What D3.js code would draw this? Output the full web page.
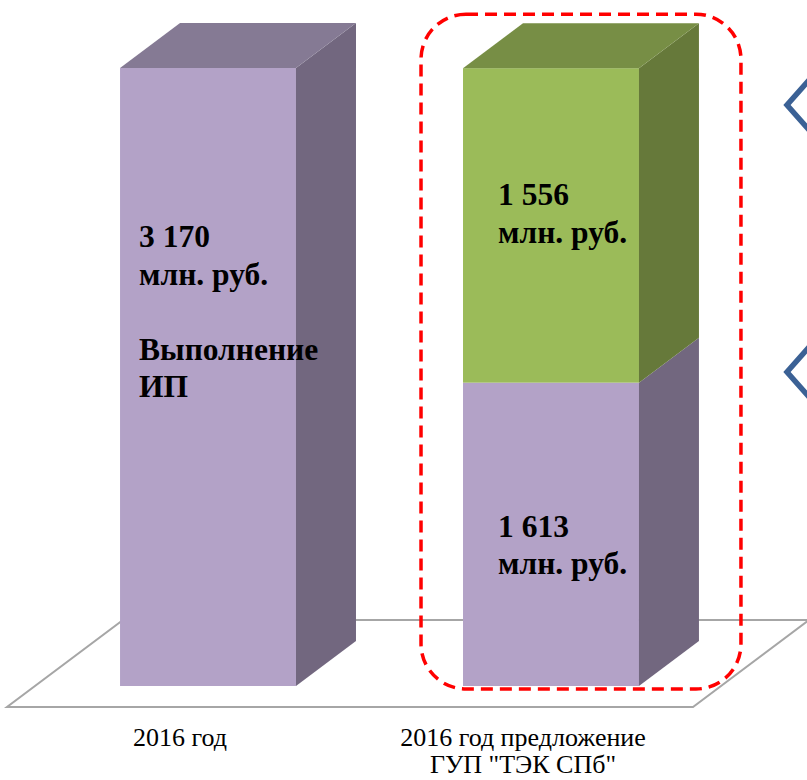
<!DOCTYPE html>
<html>
<head>
<meta charset="utf-8">
<script src="https://cdn.jsdelivr.net/npm/d3@7"></script>
<style>
  html, body { margin: 0; padding: 0; background: #ffffff; }
  svg { display: block; }
  text { font-family: "Liberation Serif", "Times New Roman", "DejaVu Serif", serif; }
</style>
</head>
<body>
<script>
// ---- data ----
const categories = ["2016 год", "2016 год предложение ГУП \"ТЭК СПб\""];
const categoryLines = [["2016 год"], ["2016 год предложение", "ГУП \"ТЭК СПб\""]];
const seriesKeys = ["base", "proposal"];
const baseValues = [3170, 1556];
const proposalValues = [0, 1613];
const labelTexts = [
  ["3 170", "млн. руб.", "", "Выполнение", "ИП"],
  ["1 556", "млн. руб."],
  ["1 613", "млн. руб."]
];

// ---- layout ----
const W = 807, H = 780;
const DX = 60, DY = 45;
const colors = {
  base: { front: "#B3A2C7", side: "#72677F", top: "#857A94" },
  proposal: { front: "#9BBB59", side: "#66793A", top: "#778E45" }
};

const svg = d3.select("body").append("svg").attr("width", W).attr("height", H);

const x = d3.scaleBand().domain(categories).range([0, 759]).paddingInner(0.487).paddingOuter(0.35);
const y = d3.scaleLinear().domain([0, 3170]).range([686, 68]);
const bw = x.bandwidth();

const data = categories.map((c, i) => ({ cat: c, base: baseValues[i], proposal: proposalValues[i] }));
const stacked = d3.stack().keys(seriesKeys)(data);

// floor
const y0 = y(0);
const fy = y0 + 21, by = y0 - DY - 21;
const fxL = 7, fxR = 693;
const slope = DX / DY;
svg.append("polygon")
  .attr("points", [[fxL, fy], [fxR, fy], [fxR + (fy - by) * slope, by], [fxL + (fy - by) * slope, by]].map(p => p.join(",")).join(" "))
  .attr("fill", "none").attr("stroke", "#A6A6A6").attr("stroke-width", 2);

// bars
const totals = data.map(d => d3.sum(seriesKeys, k => d[k]));
categories.forEach((c, i) => {
  const x0 = x(c);
  stacked.forEach(s => {
    const seg = s[i];
    if (seg[1] - seg[0] <= 0) return;
    const col = colors[s.key];
    const yt = y(seg[1]), yb = y(seg[0]);
    const g = svg.append("g");
    g.append("rect").attr("x", x0).attr("y", yt).attr("width", bw).attr("height", yb - yt).attr("fill", col.front);
    g.append("polygon")
      .attr("points", [[x0 + bw, yb], [x0 + bw, yt], [x0 + bw + DX, yt - DY], [x0 + bw + DX, yb - DY]].map(p => p.join(",")).join(" "))
      .attr("fill", col.side);
    if (Math.abs(seg[1] - totals[i]) < 1e-9) {
      g.append("polygon")
        .attr("points", [[x0, yt], [x0 + bw, yt], [x0 + bw + DX, yt - DY], [x0 + DX, yt - DY]].map(p => p.join(",")).join(" "))
        .attr("fill", col.top);
    }
  });
});

// dashed highlight around second bar
const hx = x(categories[1]) - 42;
svg.append("rect")
  .attr("x", hx).attr("y", y(totals[1]) - DY - 9)
  .attr("width", bw + DX + 84).attr("height", (y0 + 3) - (y(totals[1]) - DY - 9))
  .attr("rx", 45).attr("ry", 45)
  .attr("fill", "none").attr("stroke", "#FF0000").attr("stroke-width", 3.5)
  .attr("stroke-dasharray", "12,7");

// chevrons
[105, 372].forEach(cy => {
  svg.append("path")
    .attr("d", `M810,${cy - 26} L787,${cy} L810,${cy + 26}`)
    .attr("fill", "none").attr("stroke", "#3B6195").attr("stroke-width", 5.5);
});

// value labels
const labelPos = [
  { cat: 0, dx: 19, y: y(totals[0]) + 179 },
  { cat: 1, dx: 35, y: y(totals[1]) + 137 },
  { cat: 1, dx: 35, y: y(baseValues[1]) + 154 }
];
labelTexts.forEach((lines, j) => {
  const p = labelPos[j];
  const t = svg.append("text")
    .attr("x", x(categories[p.cat]) + p.dx).attr("y", p.y)
    .style("font-weight", "bold").style("font-size", "31.5px").attr("fill", "#000");
  lines.forEach((ln, k) => {
    t.append("tspan").attr("x", x(categories[p.cat]) + p.dx).attr("y", p.y + k * 37.5).text(ln);
  });
});

// category labels (one text element per line)
categoryLines.forEach((lines, i) => {
  const cx = x(categories[i]) + bw / 2 - 28;
  lines.forEach((ln, k) => {
    svg.append("text").attr("text-anchor", "middle")
      .attr("x", cx).attr("y", 746 + k * 27)
      .style("font-size", "26px").attr("fill", "#000")
      .text(ln);
  });
});
</script>
</body>
</html>
